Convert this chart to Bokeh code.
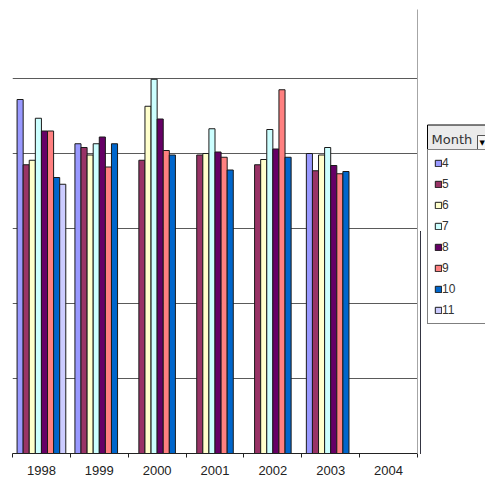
from bokeh.plotting import figure
from bokeh.layouts import row
from bokeh.models import (FactorRange, Range1d, LinearAxis, FixedTicker, Legend,
                          LegendItem, Label, ColumnDataSource)
from bokeh.transform import dodge
from bokeh.embed import file_html
from bokeh.resources import INLINE

# ---- data (one gridline step = 1 unit) ----
years = ["1998", "1999", "2000", "2001", "2002", "2003", "2004"]
months = ["4", "5", "6", "7", "8", "9", "10", "11"]
m4 = [4.72, 4.13, None, None, None, 4.00, None]
m5 = [3.85, 4.08, 3.91, 3.98, 3.85, 3.77, None]
m6 = [3.91, 3.98, 4.63, 4.00, 3.92, 3.98, None]
m7 = [4.47, 4.13, 4.99, 4.33, 4.32, 4.08, None]
m8 = [4.30, 4.22, 4.46, 4.02, 4.06, 3.84, None]
m9 = [4.30, 3.82, 4.04, 3.95, 4.85, 3.73, None]
m10 = [3.68, 4.13, 3.98, 3.78, 3.95, 3.76, None]
m11 = [3.59, None, None, None, None, None, None]
series = [m4, m5, m6, m7, m8, m9, m10, m11]
colors = ["#9999FF", "#993366", "#FFFFCC", "#CCFFFF", "#660066", "#FF8080", "#0066CC", "#CCCCFF"]
gridlines = [1, 2, 3, 4, 5]
y_top = 5.92
legend_title = "Month"

p = figure(width=420, height=479,
           x_range=FactorRange(*years), y_range=Range1d(0, y_top),
           x_axis_location=None, y_axis_location=None,
           output_backend="svg", toolbar_location=None,
           min_border_left=12, min_border_right=3, min_border_top=9, min_border_bottom=26)
p.outline_line_color = None
p.background_fill_color = "white"
p.border_fill_color = "white"
p.xgrid.visible = False
p.ygrid.ticker = FixedTicker(ticks=gridlines)
p.ygrid.grid_line_color = "#5a5a5a"
p.ygrid.grid_line_width = 1

n = len(months)
bw = 1.0 / (n + 1.5)
for i, (m, vals, c) in enumerate(zip(months, series, colors)):
    xs = [y for y, v in zip(years, vals) if v is not None]
    vs = [v for v in vals if v is not None]
    src = ColumnDataSource(dict(year=xs, value=vs))
    p.vbar(x=dodge("year", (i - (n - 1) / 2) * bw, range=p.x_range), top="value",
           width=bw, source=src, fill_color=c, line_color="#1a1a1a", line_width=1)

# bottom axis: labels at category centres, ticks at category boundaries
xaxis = LinearAxis(
    ticker=FixedTicker(ticks=[k + 0.5 for k in range(len(years))],
                       minor_ticks=list(range(len(years) + 1))),
    major_label_overrides={k + 0.5: y for k, y in enumerate(years)},
    axis_line_color="#222222", axis_line_width=1,
    major_tick_out=0, major_tick_in=0,
    minor_tick_out=4, minor_tick_in=0, minor_tick_line_color="#222222",
    major_label_standoff=8,
    major_label_text_font="Liberation Sans", major_label_text_font_size="13px",
    major_label_text_color="#222222")
p.add_layout(xaxis, "below")

# right plot-area edge
raxis = LinearAxis(ticker=FixedTicker(ticks=[]), axis_line_color="#a6a6a6",
                   major_tick_out=0, major_tick_in=0, minor_tick_out=0, minor_tick_in=0,
                   major_label_text_font_size="0px")
p.add_layout(raxis, "right")

# ---- legend panel (its frame is aligned with the chart's frame: y 9..453) ----
lg = figure(width=65, height=479, x_range=Range1d(0, 1), y_range=Range1d(0, 1),
            x_axis_location=None, y_axis_location=None,
            output_backend="svg", toolbar_location=None,
            min_border_left=0, min_border_right=0, min_border_top=9, min_border_bottom=26)
lg.outline_line_color = None
lg.xgrid.visible = False
lg.ygrid.visible = False
lg.background_fill_color = "white"
lg.border_fill_color = "white"

items = []
for m, c in zip(months, colors):
    # swatch renderers: kept outside the visible range of this panel
    r = lg.vbar(x=[-10], top=[0.5], width=0.1, fill_color=c, line_color="#1a1a1a", line_width=1)
    items.append(LegendItem(label=m, renderers=[r]))

legend = Legend(items=items, location=(7, 129), orientation="vertical",
                border_line_color="#000000", border_line_width=1,
                background_fill_color="white", background_fill_alpha=1.0,
                padding=6, spacing=7, margin=0,
                glyph_width=8, glyph_height=8, label_height=13, label_width=60,
                label_standoff=0,
                label_text_font="Liberation Sans", label_text_font_size="12px",
                label_text_color="#333333")
lg.add_layout(legend)

header = Label(x=7, y=314, x_units="screen", y_units="screen", text=legend_title,
               text_align="left", text_baseline="middle",
               text_font="DejaVu Sans", text_font_size="13px", text_color="#333333",
               background_fill_color="#ebebeb", border_line_color="#000000",
               padding=dict(left=4, right=60, top=7, bottom=7))
lg.add_layout(header)

button = Label(x=57, y=311, x_units="screen", y_units="screen", text="\u25BC",
               text_align="left", text_baseline="middle",
               text_font="DejaVu Sans", text_font_size="7px", text_color="#000000",
               background_fill_color="#f6f6f6", border_line_color="#555555",
               padding=dict(left=2, right=6, top=3, bottom=3))
lg.add_layout(button)

layout = row(p, lg, spacing=0)
open("out.html", "w").write(file_html(layout, INLINE))
